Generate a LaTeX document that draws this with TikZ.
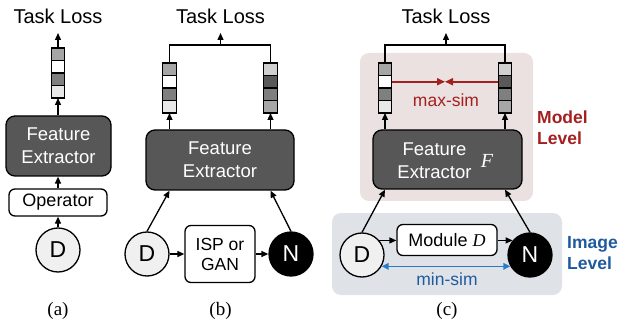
\documentclass[tikz,border=0pt]{standalone}
\usepackage{fontspec}
\setmainfont{Liberation Sans}
\newfontfamily\tmsfont{Liberation Serif}
\usetikzlibrary{arrows.meta,fit,calc}
\definecolor{cLight}{HTML}{E8E8E8}
\definecolor{cPale}{HTML}{D0D0D0}
\definecolor{cGray}{HTML}{A6A6A6}
\definecolor{cMid}{HTML}{7F7F7F}
\definecolor{cDark}{HTML}{595959}
\definecolor{feGray}{HTML}{575757}
\definecolor{cCirc}{HTML}{F0F0F0}
\definecolor{pinkbg}{HTML}{EAE1E0}
\definecolor{bluebg}{HTML}{DFE3E8}
\definecolor{myred}{HTML}{A3201F}
\definecolor{myblue}{HTML}{1F5A9E}
\definecolor{arrblue}{HTML}{2B7BCB}
\tikzset{
  arr/.style={-{Triangle[length=7pt,width=6pt]}, line width=1.3pt},
  redarr/.style={-{Triangle[length=8pt,width=7pt]}, line width=1.6pt, draw=myred},
  bluearr/.style={{Triangle[length=7pt,width=6.5pt]}-{Triangle[length=7pt,width=6.5pt]}, line width=1.6pt, draw=arrblue},
  cell/.style={draw, line width=1.3pt, minimum width=13.5pt, minimum height=12.5pt, inner sep=0pt, outer sep=0pt},
  fe/.style={draw=black, line width=1.3pt, fill=feGray, rounded corners=9pt, text=white, font=\fontsize{18.5}{23}\selectfont, align=center, inner sep=0pt},
  fetext/.style={text=white, font=\fontsize{18.5}{23}\selectfont, align=center, inner sep=0pt},
  whitebox/.style={draw=black, line width=1.3pt, fill=white, rounded corners=6pt, align=center, inner sep=0pt, font=\fontsize{17.5}{20}\selectfont},
  circD/.style={circle, draw=black, line width=1.3pt, fill=cCirc, minimum size=44pt, inner sep=0pt, font=\fontsize{23}{23}\selectfont},
  circN/.style={circle, draw=black, line width=1.3pt, fill=black, text=white, minimum size=44pt, inner sep=0pt, font=\fontsize{23}{23}\selectfont},
  tloss/.style={font=\fontsize{20}{20}\selectfont, inner sep=0pt},
  panlab/.style={font=\tmsfont\fontsize{19}{19}\selectfont, inner sep=0pt},
  simlab/.style={font=\fontsize{17.5}{17.5}\selectfont, inner sep=0pt},
  levlab/.style={font=\bfseries\fontsize{17.5}{21}\selectfont, align=left, anchor=west, inner sep=0pt}
}
\newcommand\featbar[7]{%
  \foreach \cc [count=\ii] in {#4,#5,#6,#7} {
    \node[cell, fill=\cc] (#1\ii) at (#2, {#3+12.5*(\ii-0.5)}) {};
  }
  \node[fit=(#11)(#14), inner sep=0pt, outer sep=0pt] (#1) {};
}
\begin{document}
\begin{tikzpicture}[x=1pt,y=-1pt]
\useasboundingbox (0,0) rectangle (618,323);
% backgrounds (c)
\fill[pinkbg, rounded corners=9pt] (360,53) rectangle (533,201);
\fill[bluebg, rounded corners=9pt] (332,213) rectangle (562,295);

% ---------- panel (a)
\node[tloss] (tla) at (58,16) {Task Loss};
\coordinate (ta) at (58,33);
\featbar{ba}{58}{48}{cGray}{white}{cMid}{cLight}
\node[fe, minimum width=105pt, minimum height=60pt] (fea) at (58.5,146) {Feature\\Extractor};
\node[whitebox, minimum width=98pt, minimum height=27pt, font=\fontsize{18}{18}\selectfont] (op) at (58,202.5) {Operator};
\node[circD] (da) at (58,250) {D};
\node[panlab] (la) at (58,311) {(a)};
\draw[arr] (da) -- (op);
\draw[arr] (op) -- (op |- fea.south);
\draw[arr] (ba.south |- fea.north) -- (ba.south);
\draw[arr] (ba.north) -- (ta);

% ---------- panel (b)
\node[tloss] (tlb) at (220.5,16) {Task Loss};
\coordinate (tb) at (220.5,33);
\coordinate (hb) at (220.5,45);
\featbar{bl}{169.5}{63}{cGray}{white}{cMid}{cLight}
\featbar{br}{270.5}{63}{cPale}{cDark}{cMid}{cGray}
\draw[line width=1.3pt] (bl.north) |- (hb) -| (br.north);
\draw[arr] (hb) -- (tb);
\node[fe, minimum width=148pt, minimum height=60pt] (feb) at (220,160) {Feature\\Extractor};
\draw[arr] (bl.south |- feb.north) -- (bl.south);
\draw[arr] (br.south |- feb.north) -- (br.south);
\node[circD] (db) at (147,254) {D};
\node[whitebox, minimum width=70pt, minimum height=57pt] (isp) at (220,254) {ISP or\\GAN};
\node[circN] (nb) at (291,254) {N};
\draw[arr] (db) -- (isp);
\draw[arr] (isp) -- (nb);
\draw[arr] (db.north) -- (bl.south |- feb.south);
\draw[arr] (nb.north) -- (br.south |- feb.south);
\node[panlab] (lb) at (220.5,311) {(b)};

% ---------- panel (c)
\node[tloss] (tlc) at (446,16) {Task Loss};
\coordinate (tc) at (446,33);
\coordinate (hc) at (446,45);
\featbar{cl}{385}{63}{cGray}{white}{cMid}{cLight}
\featbar{cr}{505}{63}{cPale}{cDark}{cMid}{cGray}
\draw[line width=1.3pt] (cl.north) |- (hc) -| (cr.north);
\draw[arr] (hc) -- (tc);
\coordinate (mid) at ($(cl2.east)!0.5!(cr2.west)$);
\draw[redarr] (cl2.east) -- (mid);
\draw[redarr] (cr2.west) -- (mid);
\node[simlab, text=myred] (maxs) at (446,100) {max-sim};
\node[levlab, text=myred] (mlev) at (537,127.5) {Model\\Level};
\node[fe, minimum width=149pt, minimum height=59pt] (fec) at (447.5,159.5) {};
\node[fetext] (fect) at (434.5,160.5) {Feature\\Extractor};
\node[fetext, font=\tmsfont\itshape\fontsize{20}{20}\selectfont] (fF) at (487,161) {F};
\draw[arr] (cl.south |- fec.north) -- (cl.south);
\draw[arr] (cr.south |- fec.north) -- (cr.south);
\node[circD] (dc) at (362,255) {D};
\node[whitebox, minimum width=100pt, minimum height=31pt, font=\fontsize{18}{18}\selectfont] (mod) at (447,240) {Module {\tmsfont\itshape D}};
\node[circN] (nc) at (530,255) {N};
\draw[arr] (dc.40) -- (dc.40 -| mod.west);
\draw[arr] (mod.east |- nc.140) -- (nc.140);
\draw[bluearr] (dc.-30) -- (nc.210);
\node[simlab, text=myblue] (mins) at (447,279) {min-sim};
\node[levlab, text=myblue] (ilev) at (567,253.5) {Image\\Level};
\draw[arr] (dc.north) -- (cl.south |- fec.south);
\draw[arr] (nc.north) -- (cr.south |- fec.south);
\node[panlab] (lc) at (447,311) {(c)};
\end{tikzpicture}
\end{document}
